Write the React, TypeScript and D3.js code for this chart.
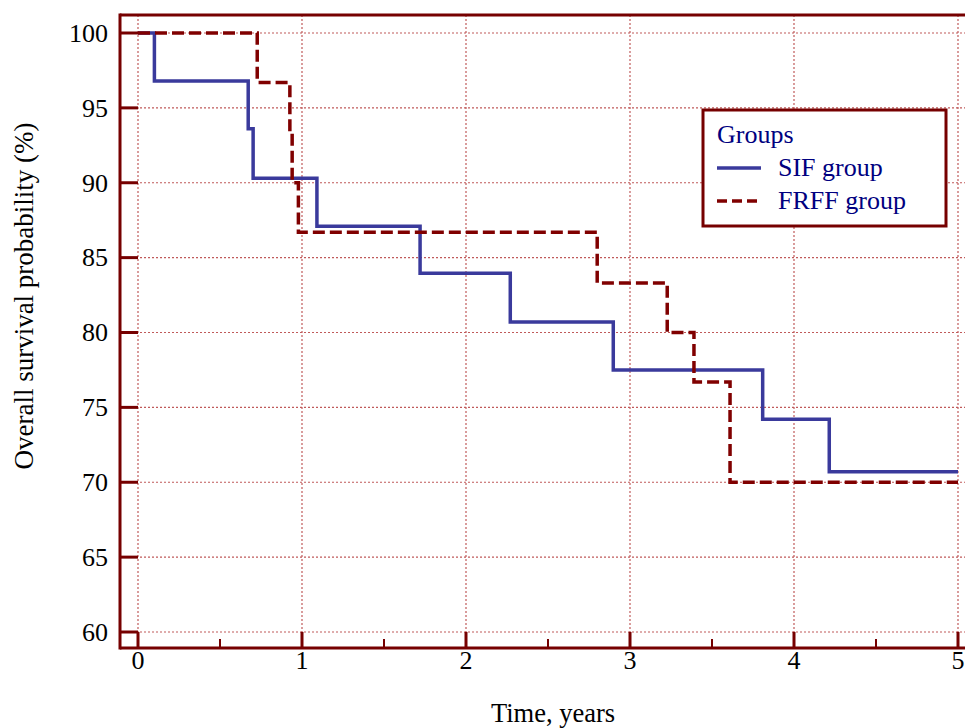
import React from "react";
import * as d3 from "d3";

const sifTimes = [0, 0.1, 0.672, 0.702, 1.091, 1.72, 2.27, 2.898, 3.809, 4.215, 5.0];
const sifSurv = [100, 96.8, 93.6, 90.3, 87.1, 83.95, 80.7, 77.5, 74.2, 70.7, 70.7];
const frffTimes = [0, 0.727, 0.926, 0.94, 0.978, 2.8, 3.227, 3.39, 3.61, 5.0];
const frffSurv = [100, 96.7, 93.3, 90.0, 86.7, 83.3, 80.0, 76.7, 70.0, 70.0];
const xTicks = [0, 1, 2, 3, 4, 5];
const xMinorTicks = [0.5, 1.5, 2.5, 3.5, 4.5];
const yTicks = [60, 65, 70, 75, 80, 85, 90, 95, 100];
const seriesNames = ["SIF group", "FRFF group"];

const AXIS = "#760000";
const BLUE = "#3a3a9c";
const RED = "#800000";
const GRID = "#c05a5a";
const FONT = "'Liberation Serif', 'Times New Roman', serif";

export default function App() {
  const x = d3.scaleLinear().domain([0, 5]).range([138, 958]);
  const y = d3.scaleLinear().domain([60, 100]).range([632, 33]);
  const frameL = 120, frameT = 15, frameB = 648, frameR = 965;

  const line = d3
    .line<[number, number]>()
    .x((d) => x(d[0]))
    .y((d) => y(d[1]))
    .curve(d3.curveStepAfter);

  const sif = line(sifTimes.map((t, i) => [t, sifSurv[i]]) as [number, number][]) || "";
  const frff = line(frffTimes.map((t, i) => [t, frffSurv[i]]) as [number, number][]) || "";

  return (
    <svg
      width={965}
      height={728}
      style={{ position: "absolute", left: 0, top: 0, background: "#fff" }}
      fontFamily={FONT}
    >
      <rect x={0} y={0} width={965} height={728} fill="#fff" />
      {/* grid */}
      {xTicks.map((t) => (
        <line key={"gx" + t} x1={x(t)} x2={x(t)} y1={frameT} y2={frameB} stroke={GRID} strokeWidth={1.2} strokeDasharray="2,2" />
      ))}
      {yTicks.map((t) => (
        <line key={"gy" + t} x1={frameL} x2={frameR} y1={y(t)} y2={y(t)} stroke={GRID} strokeWidth={1.2} strokeDasharray="2,2" />
      ))}
      {/* curves */}
      <path d={sif} fill="none" stroke={BLUE} strokeWidth={3.5} />
      <path d={frff} fill="none" stroke={RED} strokeWidth={3.5} strokeDasharray="12,5" />
      {/* frame */}
      <line x1={frameL} x2={frameL} y1={frameT - 1.5} y2={frameB + 1.5} stroke={AXIS} strokeWidth={3} />
      <line x1={frameL} x2={frameR} y1={frameT} y2={frameT} stroke={AXIS} strokeWidth={3} />
      <line x1={frameL} x2={frameR} y1={frameB} y2={frameB} stroke={AXIS} strokeWidth={3} />
      {/* y ticks */}
      {yTicks.map((t) => (
        <g key={"yt" + t}>
          <line x1={frameL} x2={x(0)} y1={y(t)} y2={y(t)} stroke={AXIS} strokeWidth={3} />
          <text x={108} y={y(t)} dy="0.34em" textAnchor="end" fontSize={26} fill="#000">
            {t}
          </text>
        </g>
      ))}
      {/* x ticks */}
      {xTicks.map((t) => (
        <g key={"xt" + t}>
          <line x1={x(t)} x2={x(t)} y1={frameB} y2={y(60)} stroke={AXIS} strokeWidth={3} />
          <text x={x(t)} y={669} textAnchor="middle" fontSize={26} fill="#000">
            {t}
          </text>
        </g>
      ))}
      {xMinorTicks.map((t) => (
        <line key={"xm" + t} x1={x(t)} x2={x(t)} y1={frameB} y2={frameB - 9} stroke={AXIS} strokeWidth={2} />
      ))}
      {/* axis titles */}
      <text x={553} y={722} textAnchor="middle" fontSize={26.5} fill="#000">
        Time, years
      </text>
      <text transform="translate(33,296) rotate(-90)" textAnchor="middle" fontSize={27} fill="#000">
        Overall survival probability (%)
      </text>
      {/* legend */}
      <rect x={703} y={110} width={243} height={116} fill="#fff" stroke={AXIS} strokeWidth={3} />
      <text x={717} y={143} fontSize={26} fill="#000080">
        Groups
      </text>
      <line x1={717} x2={761} y1={168} y2={168} stroke={BLUE} strokeWidth={3.5} />
      <text x={778} y={176} fontSize={26} fill="#000080">
        {seriesNames[0]}
      </text>
      <line x1={717} x2={761} y1={201} y2={201} stroke={RED} strokeWidth={3.5} strokeDasharray="10,5" />
      <text x={778} y={209} fontSize={26} fill="#000080">
        {seriesNames[1]}
      </text>
    </svg>
  );
}
